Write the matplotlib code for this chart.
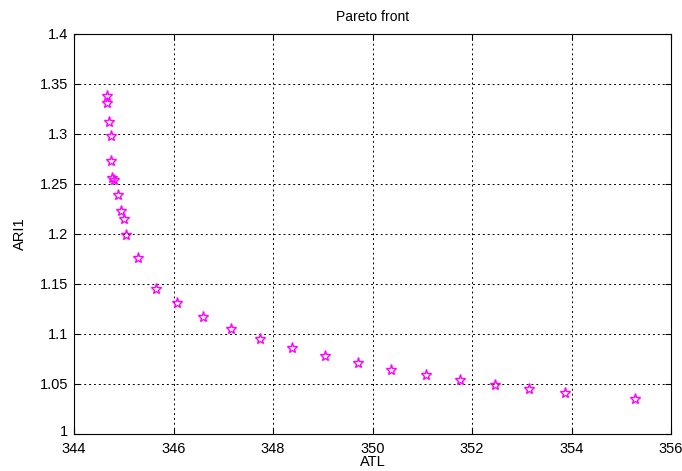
import numpy as np
import matplotlib.pyplot as plt
import matplotlib.transforms as mtransforms

plt.rcParams['font.family'] = ['Liberation Sans', 'DejaVu Sans']

# Pareto front points
atl = [344.66, 344.66, 344.70, 344.74, 344.74, 344.76, 344.80, 344.88, 344.94,
       345.01, 345.05, 345.29, 345.65, 346.07, 346.59, 347.15, 347.74, 348.38,
       349.05, 349.71, 350.37, 351.08, 351.76, 352.46, 353.15, 353.87, 355.28]
ari1 = [1.338, 1.331, 1.312, 1.298, 1.273, 1.256, 1.254, 1.239, 1.223,
        1.215, 1.199, 1.176, 1.145, 1.131, 1.117, 1.105, 1.095, 1.086,
        1.078, 1.071, 1.064, 1.059, 1.054, 1.049, 1.045, 1.041, 1.035]

xticks = [344, 346, 348, 350, 352, 354, 356]
yticks = [1, 1.05, 1.1, 1.15, 1.2, 1.25, 1.3, 1.35, 1.4]
ytick_labels = ["1", "1.05", "1.1", "1.15", "1.2", "1.25", "1.3", "1.35", "1.4"]

fig = plt.figure(figsize=(6.82, 4.71), dpi=100)
ax = fig.add_axes([0.1085, 0.0786, 0.8755, 0.8494])

ax.plot(atl, ari1, linestyle='none', marker='*', markersize=8,
        markerfacecolor='none', markeredgecolor='#ff00ff', markeredgewidth=1.0)

ax.set_xlim(344, 356)
ax.set_ylim(1, 1.4)
ax.set_xticks(xticks)
ax.set_yticks(yticks)
ax.set_yticklabels(ytick_labels)
ax.tick_params(direction='in', top=True, right=True, labelsize=10.5, length=4)
ax.tick_params(axis='x', pad=6)
ax.tick_params(axis='y', pad=4)
ax.grid(True, color='black', linestyle=(0, (2, 3)), linewidth=0.7)
for s in ax.spines.values():
    s.set_linewidth(0.8)

# nudge the lowest y label up a few pixels so it clears the first x label
lab = ax.yaxis.get_major_ticks()[0].label1
lab.set_transform(lab.get_transform() + mtransforms.ScaledTranslation(0, 3 / 100, fig.dpi_scale_trans))

ax.set_title("Pareto front", fontsize=10, pad=9)
ax.set_xlabel("ATL", fontsize=10.5, labelpad=-1)
ax.set_ylabel("ARI1", fontsize=10.5, labelpad=9)

fig.savefig("out.png", dpi=100)
